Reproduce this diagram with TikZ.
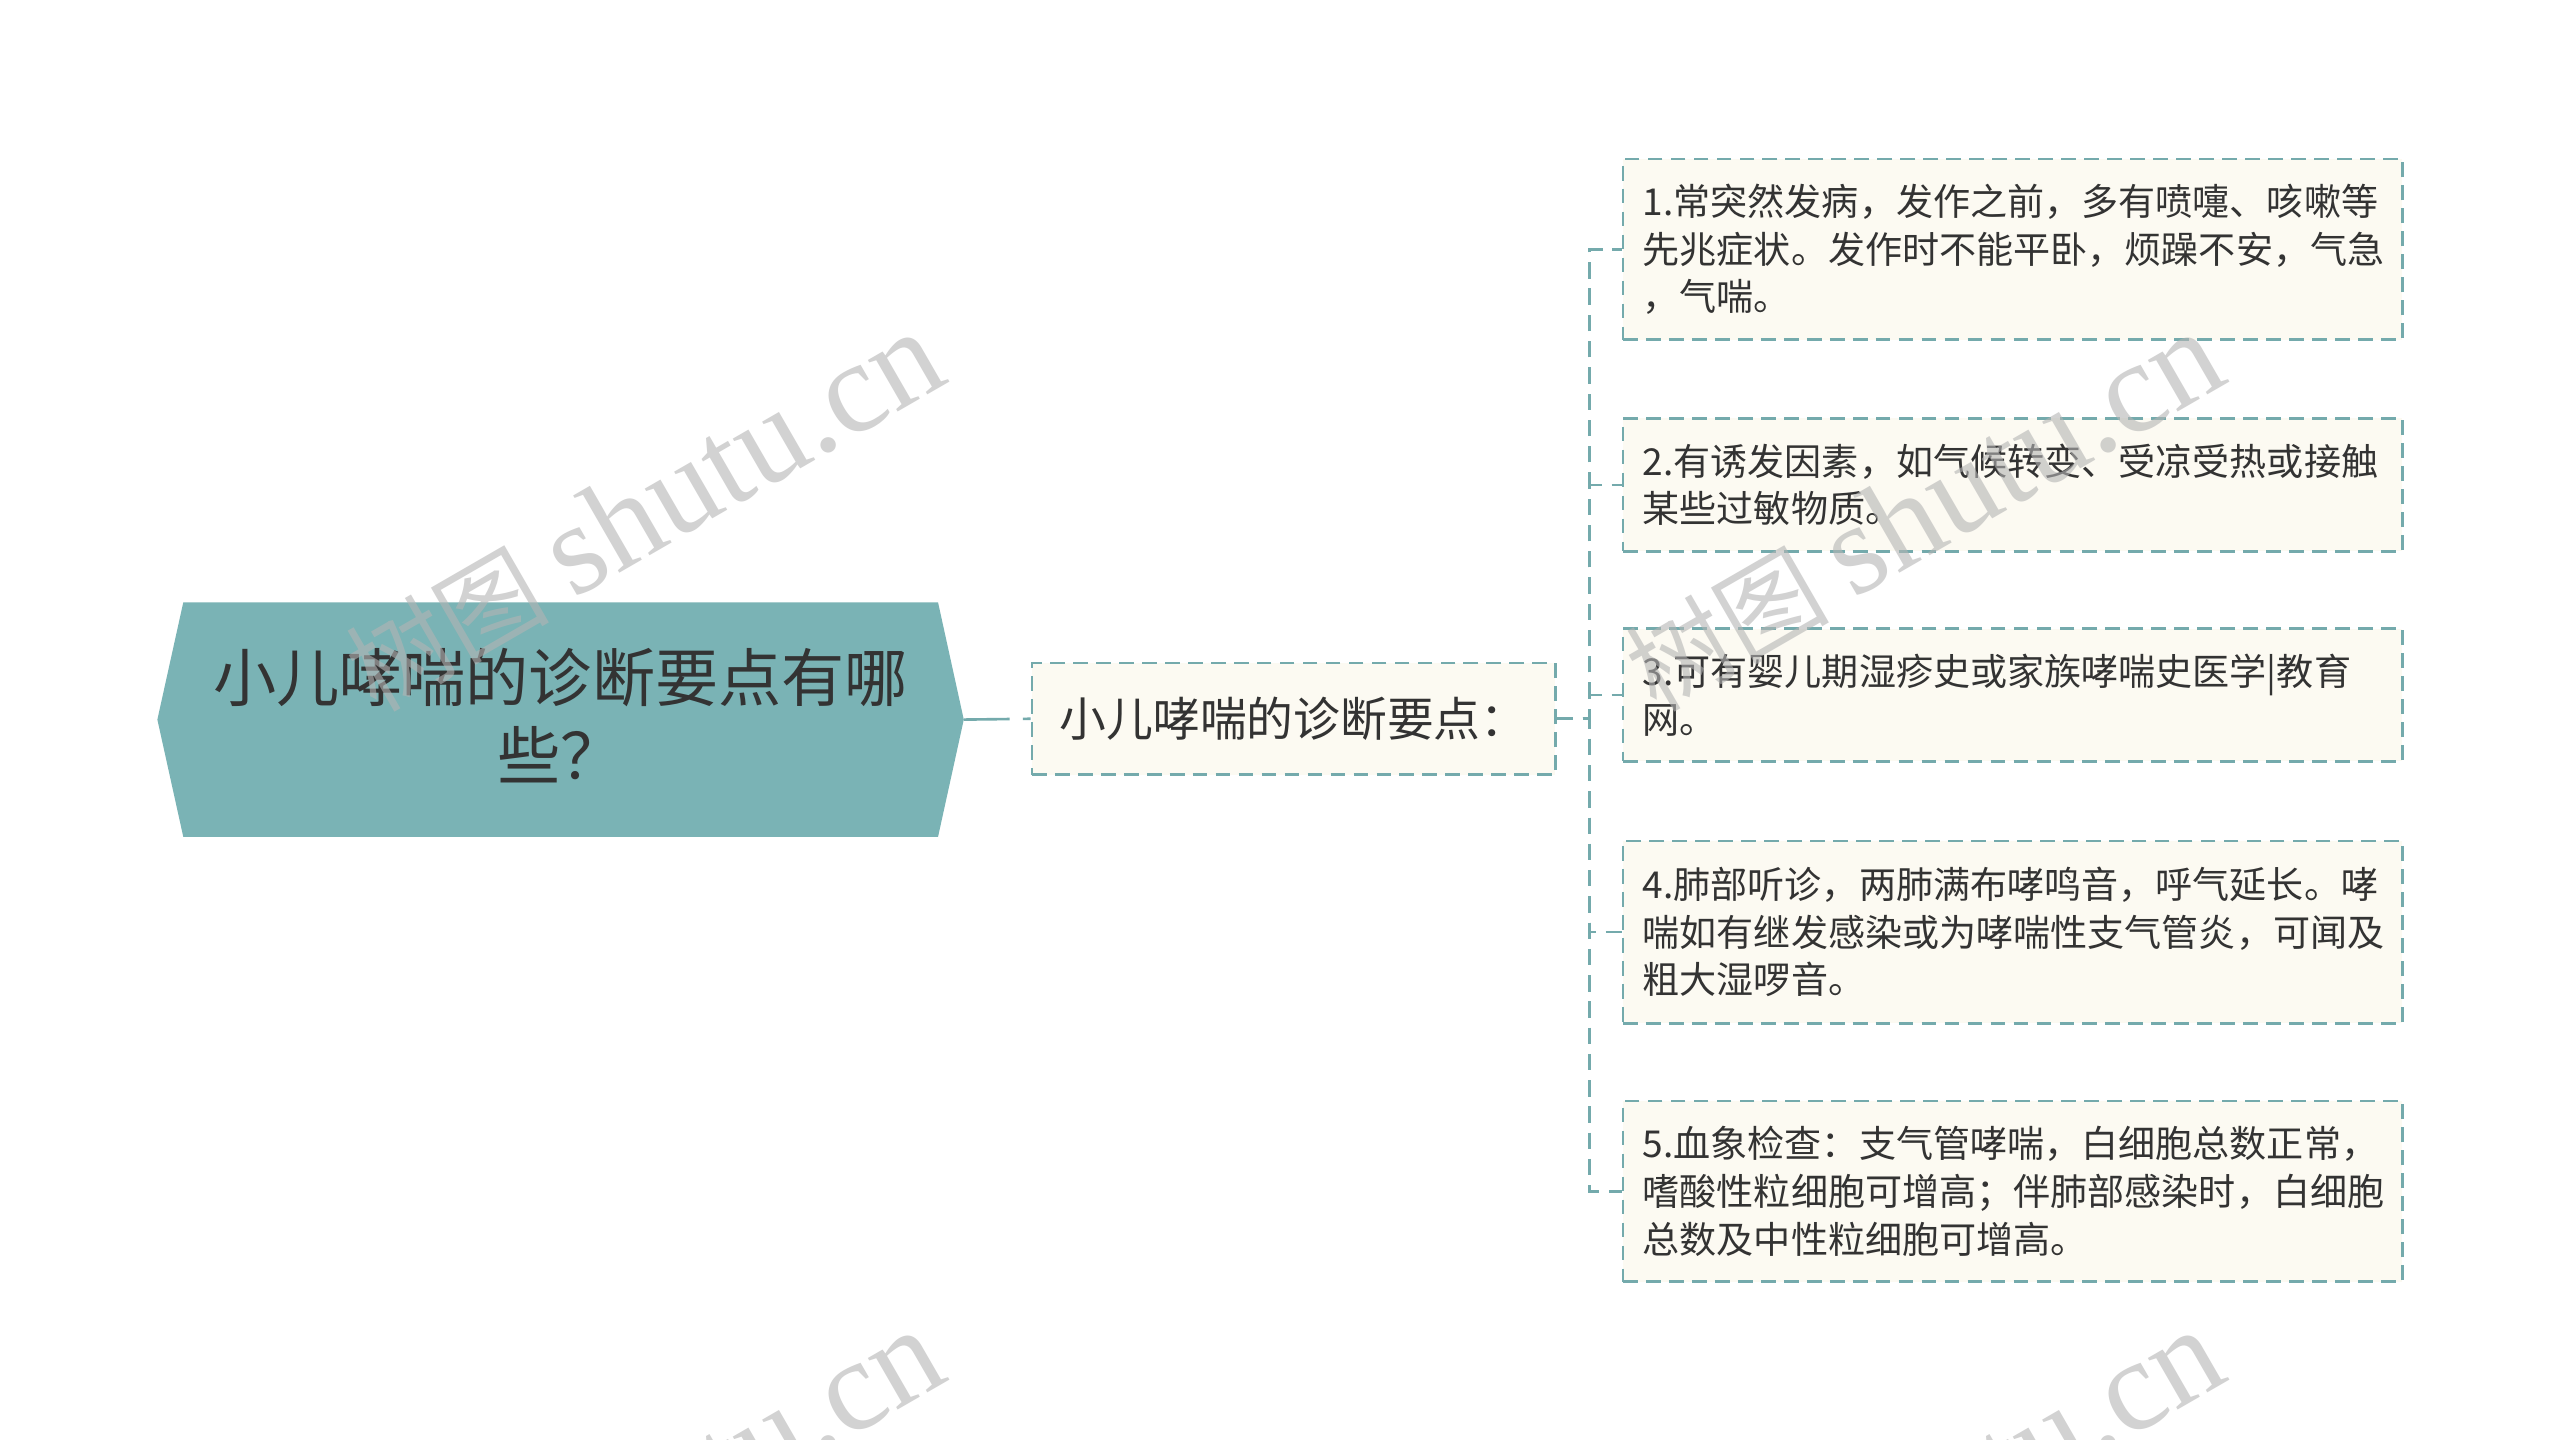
\documentclass[tikz,border=0pt]{standalone}
\usepackage{fontspec}
\setmainfont{Noto Sans CJK SC}
\newfontfamily\wmserif{Liberation Serif}
\newfontfamily\wmcjk{Noto Sans CJK SC}
\definecolor{tealfill}{HTML}{7AB3B5}
\definecolor{tealline}{HTML}{74AAAC}
\definecolor{cream}{HTML}{FCFAF2}
\definecolor{txt}{HTML}{333333}
\definecolor{wmgray}{HTML}{B4B4B4}
\tikzset{
  rootbox/.style={minimum width=491pt, minimum height=143pt, inner sep=0pt, align=center, text=txt,
    font=\fontsize{38.5}{48}\selectfont},
  subbox/.style={draw=tealline, fill=cream, line width=1.6pt, dash pattern=on 9pt off 5pt,
    minimum width=319pt, minimum height=68pt, inner sep=0pt, text=txt,
    font=\fontsize{28.5}{34}\selectfont},
  leafbox/.style={draw=tealline, fill=cream, line width=1.6pt, dash pattern=on 9pt off 5pt,
    text width=451pt, inner xsep=12pt, inner ysep=0pt, align=left, text=txt,
    font=\fontsize{22.6}{29}\selectfont},
  conn/.style={draw=tealline, line width=1.6pt, dash pattern=on 10pt off 6pt},
  wm/.style={text=wmgray, opacity=0.6, inner sep=0pt}
}
\begin{document}
\begin{tikzpicture}[x=1pt,y=-1pt]
\useasboundingbox (0,0) rectangle (1560,877);
\clip (0,0) rectangle (1560,877);
\fill[white] (0,0) rectangle (1560,877);

% root
\node[rootbox] (root) at (341.6,438.5) {};
\fill[tealfill] (root.west) -- (111.7,367) -- (571.6,367) -- (root.east) -- (571.6,510) -- (111.7,510) -- cycle;
\node[rootbox] (roottext) at (341.6,436) {小儿哮喘的诊断要点有哪\\些？};

% sub
\node[subbox] (sub) at (788.3,438) {小儿哮喘的诊断要点：};

% leaves
\node[leafbox, minimum height=110pt] (l1) at (1226.5,152) {1.常突然发病，发作之前，多有喷嚏、咳嗽等\\先兆症状。发作时不能平卧，烦躁不安，气急\\，气喘。};
\node[leafbox, minimum height=81pt] (l2) at (1226.5,295.5) {2.有诱发因素，如气候转变、受凉受热或接触\\某些过敏物质。};
\node[leafbox, minimum height=81pt] (l3) at (1226.5,423.5) {3.可有婴儿期湿疹史或家族哮喘史医学|教育\\网。};
\node[leafbox, minimum height=111pt] (l4) at (1226.5,568) {4.肺部听诊，两肺满布哮鸣音，呼气延长。哮\\喘如有继发感染或为哮喘性支气管炎，可闻及\\粗大湿啰音。};
\node[leafbox, minimum height=110pt] (l5) at (1226.5,726) {5.血象检查：支气管哮喘，白细胞总数正常，\\嗜酸性粒细胞可增高；伴肺部感染时，白细胞\\总数及中性粒细胞可增高。};

% connectors
\draw[draw=tealline, line width=1.6pt, dash pattern=on 28pt off 8pt on 6pt off 10pt] (root.east) -- (sub.west);
\coordinate (fork) at (968.4,438);
\foreach \n in {l1,l2,l3,l4,l5}{
  \draw[conn] (sub.east) -- (fork) |- (\n.west);
}

% watermarks
\foreach \dx/\dy in {0/0,780/0,0/608,780/608}{
  \node[wm, rotate=30] at (392+\dx,312+\dy) {{\wmcjk\fontsize{62}{66}\selectfont 树图}\hspace{15pt}{\wmserif\fontsize{79}{84}\selectfont shutu.cn}};
}
\end{tikzpicture}
\end{document}
